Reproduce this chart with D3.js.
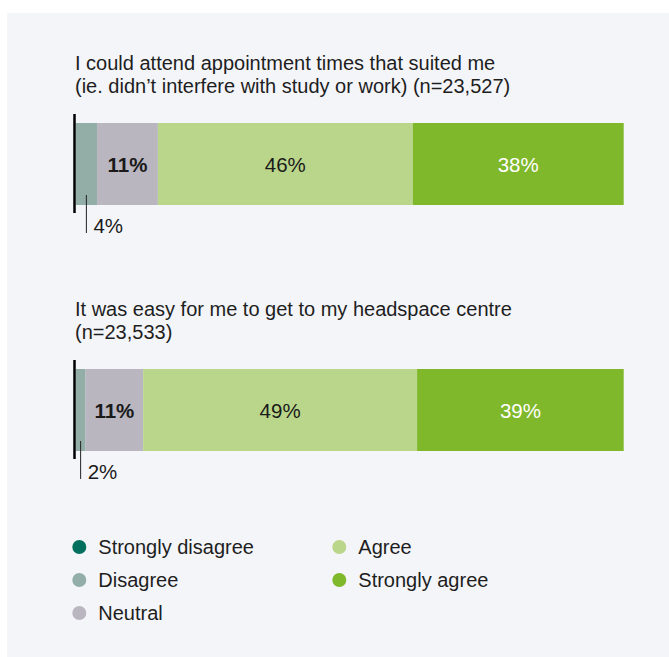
<!DOCTYPE html>
<html>
<head>
<meta charset="utf-8">
<script src="https://cdn.jsdelivr.net/npm/d3@7/dist/d3.min.js"></script>
<style>
  html, body { margin: 0; padding: 0; background: #ffffff; }
  svg { display: block; font-family: "Liberation Sans", Arial, Helvetica, sans-serif; }
</style>
</head>
<body>
<svg id="chart" width="669" height="657"></svg>
<script>
// ---- data ----
const categories = ["Strongly disagree", "Disagree", "Neutral", "Agree", "Strongly agree"];
const colors = ["#006f5e", "#93ada7", "#b9b6bf", "#bad68b", "#7fb82b"];
const questions = [
  ["I could attend appointment times that suited me", "(ie. didn\u2019t interfere with study or work) (n=23,527)"],
  ["It was easy for me to get to my headspace centre", "(n=23,533)"]
];
// values (percent)
const q1Values = [0, 3.9, 11.1, 46.5, 38.5];
const q2Values = [0, 1.8, 10.5, 50.0, 37.7];
// printed labels
const q1Labels = ["", "4%", "11%", "46%", "38%"];
const q2Labels = ["", "2%", "11%", "49%", "39%"];
const labelColors = ["#ffffff", "#1a1a1a", "#1a1a1a", "#1a1a1a", "#ffffff"];

const rows = [
  { title: questions[0], values: q1Values, labels: q1Labels },
  { title: questions[1], values: q2Values, labels: q2Labels }
];

// ---- layout ----
const svg = d3.select("#chart");
svg.append("rect").attr("x", 7).attr("y", 13).attr("width", 662).attr("height", 644).attr("fill", "#f4f5f9");

const x = d3.scaleLinear().domain([0, 100]).range([75.7, 623.7]);
const y = d3.scaleBand().domain(d3.range(rows.length)).range([123, 451]).paddingInner(1 - 82 / 246).paddingOuter(0);

rows.forEach((row, i) => {
  const g = svg.append("g");
  const top = y(i), h = y.bandwidth();
  // title (one text element, two lines)
  const t = g.append("text").attr("x", 75).attr("y", top - 53).attr("font-size", 20).attr("fill", "#1e1e1e");
  row.title.forEach((line, j) => {
    t.append("tspan").attr("x", 75).attr("dy", j === 0 ? 0 : 22.5).text(line);
  });

  // stacked segments
  let cum = 0;
  const segs = row.values.map((v, k) => { const s = { k, v, x0: cum, x1: cum + v, label: row.labels[k] }; cum += v; return s; });
  g.selectAll("rect.seg").data(segs).join("rect").attr("class", "seg")
    .attr("x", d => x(d.x0)).attr("y", top)
    .attr("width", d => Math.max(0, x(d.x1) - x(d.x0))).attr("height", h)
    .attr("fill", d => colors[d.k]);

  // labels
  segs.forEach(d => {
    if (!d.label) return;
    const cx = (x(d.x0) + x(d.x1)) / 2;
    if (d.k === 1) {
      // small segment: leader line and label below
      g.append("line").attr("x1", cx).attr("x2", cx).attr("y1", top + h - 10).attr("y2", top + h + 28)
        .attr("stroke", "#222").attr("stroke-width", 1);
      g.append("text").attr("x", cx + 7).attr("y", top + h + 28).attr("font-size", 20.5)
        .attr("font-weight", 500).attr("fill", "#1a1a1a").text(d.label);
    } else {
      g.append("text").attr("x", cx).attr("y", top + h / 2 + 7.5).attr("text-anchor", "middle")
        .attr("font-size", 20.5).attr("font-weight", d.k === 2 ? 700 : 400)
        .attr("fill", labelColors[d.k]).text(d.label);
    }
  });

  // baseline axis
  g.append("line").attr("x1", 74.5).attr("x2", 74.5).attr("y1", top - 9).attr("y2", top + h + 8)
    .attr("stroke", "#000").attr("stroke-width", 2.5);
});

// ---- legend ----
const legendCols = [79.3, 339.3];
const legendRows = [547, 580, 613];
const legend = svg.append("g");
categories.forEach((c, i) => {
  const col = i < 3 ? 0 : 1, r = i < 3 ? i : i - 3;
  legend.append("circle").attr("cx", legendCols[col]).attr("cy", legendRows[r]).attr("r", 7).attr("fill", colors[i]);
  legend.append("text").attr("x", legendCols[col] + 19).attr("y", legendRows[r] + 7).attr("font-size", 20)
    .attr("fill", "#1e1e1e").text(c);
});
</script>
</body>
</html>
